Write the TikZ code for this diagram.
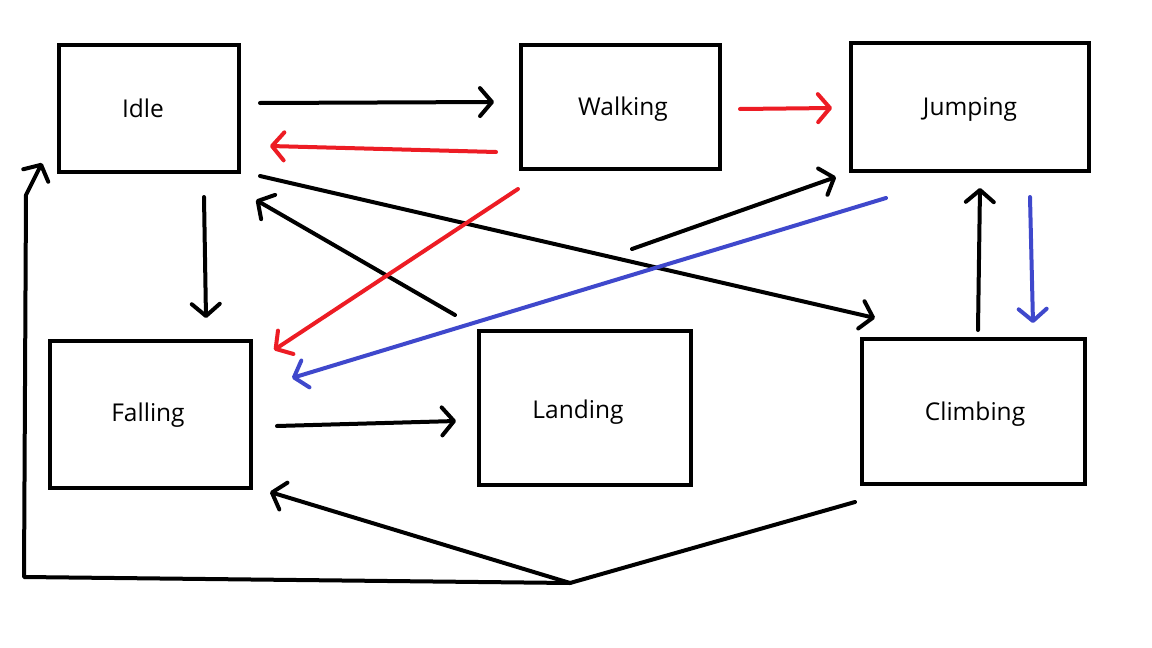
\documentclass[tikz,border=0pt]{standalone}
\usepackage{fontspec}
\setmainfont{Open Sans}
\usetikzlibrary{arrows.meta,calc}
\definecolor{pred}{RGB}{237,28,36}
\definecolor{pblue}{RGB}{63,72,204}
\begin{document}
\begin{tikzpicture}[x=1pt,y=-1pt,
  state/.style={draw=black,line width=4pt,rectangle,inner sep=0pt,text height=20pt,text depth=3pt,font=\fontsize{24.5}{28}\selectfont},
  conn/.style={line width=4pt,line cap=round,line join=round,-{Straight Barb[length=12pt,width=28pt,line cap=round,line join=round]}},
  plain/.style={line width=4pt,line cap=round,line join=round}]
\useasboundingbox[fill=white] (0,0) rectangle (1152,648);
\node[state,minimum width=180pt,minimum height=127pt] (idle) at (149,108.5) {\hspace*{-12pt}Idle};
\node[state,minimum width=199pt,minimum height=124pt] (walk) at (620.5,107) {\hspace*{5pt}Walking};
\node[state,minimum width=238pt,minimum height=128pt] (jump) at (970,107) {Jumping};
\node[state,minimum width=201pt,minimum height=147pt] (fall) at (150.5,414.5) {\hspace*{-5pt}\raisebox{2pt}{Falling}};
\node[state,minimum width=212pt,minimum height=154pt] (land) at (585,408) {\hspace*{-14pt}\raisebox{-2pt}{Landing}};
\node[state,minimum width=223pt,minimum height=145pt] (climb) at (973.5,411.5) {\hspace*{3pt}Climbing};
% Idle -> Walking
\draw[conn] ([shift={(19,-5.5)}]idle.east) -- ([shift={(-25,-5)}]walk.west);
% Walking -> Idle (red)
\draw[conn,pred] ([shift={(-23,45)}]walk.west) -- ([shift={(29,37.5)}]idle.east);
% Walking -> Jumping (red)
\draw[conn,pred] ([shift={(18,2)}]walk.east) -- ([shift={(-17,1)}]jump.west);
% Idle -> Falling
\draw[conn] ([shift={(55,23)}]idle.south) -- ([shift={(55.5,-21)}]fall.north);
% Landing -> Idle
\draw[conn] ([shift={(-130,-14)}]land.north) -- ([shift={(15,26)}]idle.south east);
% Idle -> Climbing
\draw[conn] ([shift={(19,2)}]idle.south east) -- ([shift={(15,-19)}]climb.north west);
% Walking -> Falling (red)
\draw[conn,pred] ([shift={(-1,18)}]walk.south west) -- ([shift={(21,11)}]fall.north east);
% Jumping -> Falling (blue)
\draw[conn,pblue] ([shift={(37,25)}]jump.south west) -- ([shift={(39,39)}]fall.north east);
% Landing -> Jumping
\draw[conn] ([shift={(47,-80)}]land.north) -- ([shift={(-13,4)}]jump.south west);
% Climbing -> Jumping
\draw[conn] ([shift={(4.5,-7)}]climb.north) -- ([shift={(10,15)}]jump.south);
% Jumping -> Climbing (blue)
\draw[conn,pblue] ([shift={(60,24)}]jump.south) -- ([shift={(59.5,-14)}]climb.north);
% Falling -> Landing
\draw[conn] ([shift={(24,11.5)}]fall.east) -- ([shift={(-21,13)}]land.west);
% Climbing -> junction -> Falling / Idle
\coordinate (j) at (570,583);
\coordinate (bl) at (24,577);
\coordinate (tl) at (26,195);
\draw[plain] ([shift={(-5,16)}]climb.south west) -- (j);
\draw[conn] (j) -- ([shift={(17,2)}]fall.south east);
\draw[conn] (j) -- (bl) -- (tl) -- ([shift={(-15,54.5)}]idle.west);
\end{tikzpicture}
\end{document}
